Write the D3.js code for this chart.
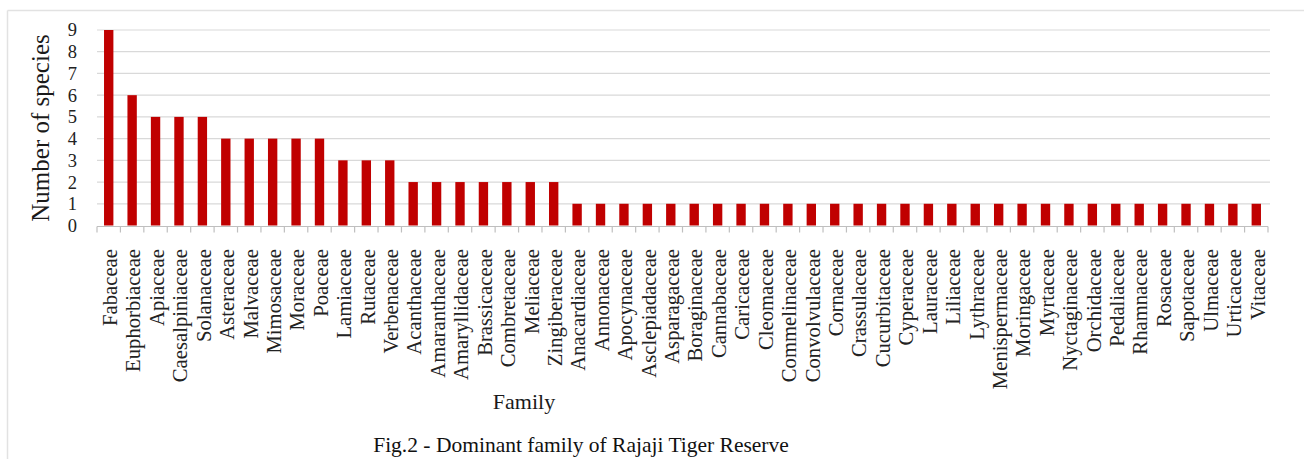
<html>
<head>
<meta charset="utf-8">
<script src="https://d3js.org/d3.v7.min.js"></script>
<style>
  body { margin: 0; background: #fff; }
  svg { display: block; font-family: "Liberation Serif", "Times New Roman", serif; }
</style>
</head>
<body>
<svg id="chart" width="1304" height="459"></svg>
<script>
// families in the order they appear on the x axis
var families = ['Fabaceae', 'Euphorbiaceae', 'Apiaceae', 'Caesalpiniaceae', 'Solanaceae',
  'Asteraceae', 'Malvaceae', 'Mimosaceae', 'Moraceae', 'Poaceae',
  'Lamiaceae', 'Rutaceae', 'Verbenaceae', 'Acanthaceae', 'Amaranthaceae',
  'Amaryllidaceae', 'Brassicaceae', 'Combretaceae', 'Meliaceae', 'Zingiberaceae',
  'Anacardiaceae', 'Annonaceae', 'Apocynaceae', 'Asclepiadaceae', 'Asparagaceae',
  'Boraginaceae', 'Cannabaceae', 'Caricaceae', 'Cleomaceae', 'Commelinaceae',
  'Convolvulaceae', 'Cornaceae', 'Crassulaceae', 'Cucurbitaceae', 'Cyperaceae',
  'Lauraceae', 'Liliaceae', 'Lythraceae', 'Menispermaceae', 'Moringaceae',
  'Myrtaceae', 'Nyctaginaceae', 'Orchidaceae', 'Pedaliaceae', 'Rhamnaceae',
  'Rosaceae', 'Sapotaceae', 'Ulmaceae', 'Urticaceae', 'Vitaceae'];

var species = [9, 6, 5, 5, 5,
  4, 4, 4, 4, 4,
  3, 3, 3, 2, 2,
  2, 2, 2, 2, 2,
  1, 1, 1, 1, 1,
  1, 1, 1, 1, 1,
  1, 1, 1, 1, 1,
  1, 1, 1, 1, 1,
  1, 1, 1, 1, 1,
  1, 1, 1, 1, 1];

var yTicks = [0, 1, 2, 3, 4, 5, 6, 7, 8, 9];

var svg = d3.select('#chart');

// faint outer frame (top + left edges visible)
svg.append('line').attr('x1', 7.5).attr('x2', 1304).attr('y1', 10.5).attr('y2', 10.5)
   .attr('stroke', '#e2e2e2').attr('stroke-width', 1.5);
svg.append('line').attr('x1', 7.5).attr('x2', 7.5).attr('y1', 10.5).attr('y2', 459)
   .attr('stroke', '#e2e2e2').attr('stroke-width', 1.5);

var x = d3.scaleBand().domain(families).range([97, 1268])
          .paddingInner(0.6).paddingOuter(0.3);
var y = d3.scaleLinear().domain([0, 9]).range([225.5, 30]);

// gridlines
svg.append('g').selectAll('line')
   .data(yTicks.filter(function(d) { return d > 0; }))
   .enter().append('line')
   .attr('x1', 97).attr('x2', 1270)
   .attr('y1', function(d) { return y(d); })
   .attr('y2', function(d) { return y(d); })
   .attr('stroke', '#d9d9d9').attr('stroke-width', 1.2);

// y labels
svg.append('g').selectAll('text')
   .data(yTicks)
   .enter().append('text')
   .attr('x', 77)
   .attr('y', function(d) { return y(d); })
   .attr('dy', '0.35em')
   .attr('text-anchor', 'end')
   .attr('font-size', 18.5)
   .attr('fill', '#222')
   .text(function(d) { return d; });

// bars
svg.append('g').selectAll('rect')
   .data(species)
   .enter().append('rect')
   .attr('x', function(d, i) { return x(families[i]); })
   .attr('width', x.bandwidth())
   .attr('y', function(d) { return y(d); })
   .attr('height', function(d) { return y(0) - y(d); })
   .attr('fill', '#c00000');

// x axis line with ticks between categories
var axis = svg.append('g').attr('stroke', '#bfbfbf').attr('stroke-width', 1.2);
axis.append('line').attr('x1', 97).attr('x2', 1268)
    .attr('y1', 226.5).attr('y2', 226.5);
var step = x.step();
axis.selectAll('.tick')
    .data(d3.range(families.length + 1))
    .enter().append('line')
    .attr('x1', function(i) { return 97 + i * step; })
    .attr('x2', function(i) { return 97 + i * step; })
    .attr('y1', 226.5).attr('y2', 232.5);

// x labels, rotated
svg.append('g').selectAll('text')
   .data(families)
   .enter().append('text')
   .attr('transform', function(d) {
       return 'translate(' + (x(d) + x.bandwidth() / 2) + ',249) rotate(-90)';
   })
   .attr('dy', '0.4em')
   .attr('text-anchor', 'end')
   .attr('font-size', 20.7)
   .attr('fill', '#222')
   .text(function(d) { return d; });

// axis titles
svg.append('text')
   .attr('transform', 'translate(49,128) rotate(-90)')
   .attr('text-anchor', 'middle')
   .attr('font-size', 25)
   .attr('fill', '#1a1a1a')
   .text('Number of species');

svg.append('text')
   .attr('x', 524).attr('y', 409)
   .attr('text-anchor', 'middle')
   .attr('font-size', 22)
   .attr('fill', '#1a1a1a')
   .text('Family');

svg.append('text')
   .attr('x', 581).attr('y', 452)
   .attr('text-anchor', 'middle')
   .attr('font-size', 21.5)
   .attr('fill', '#111')
   .text('Fig.2 - Dominant family of Rajaji  Tiger Reserve');
</script>
</body>
</html>
